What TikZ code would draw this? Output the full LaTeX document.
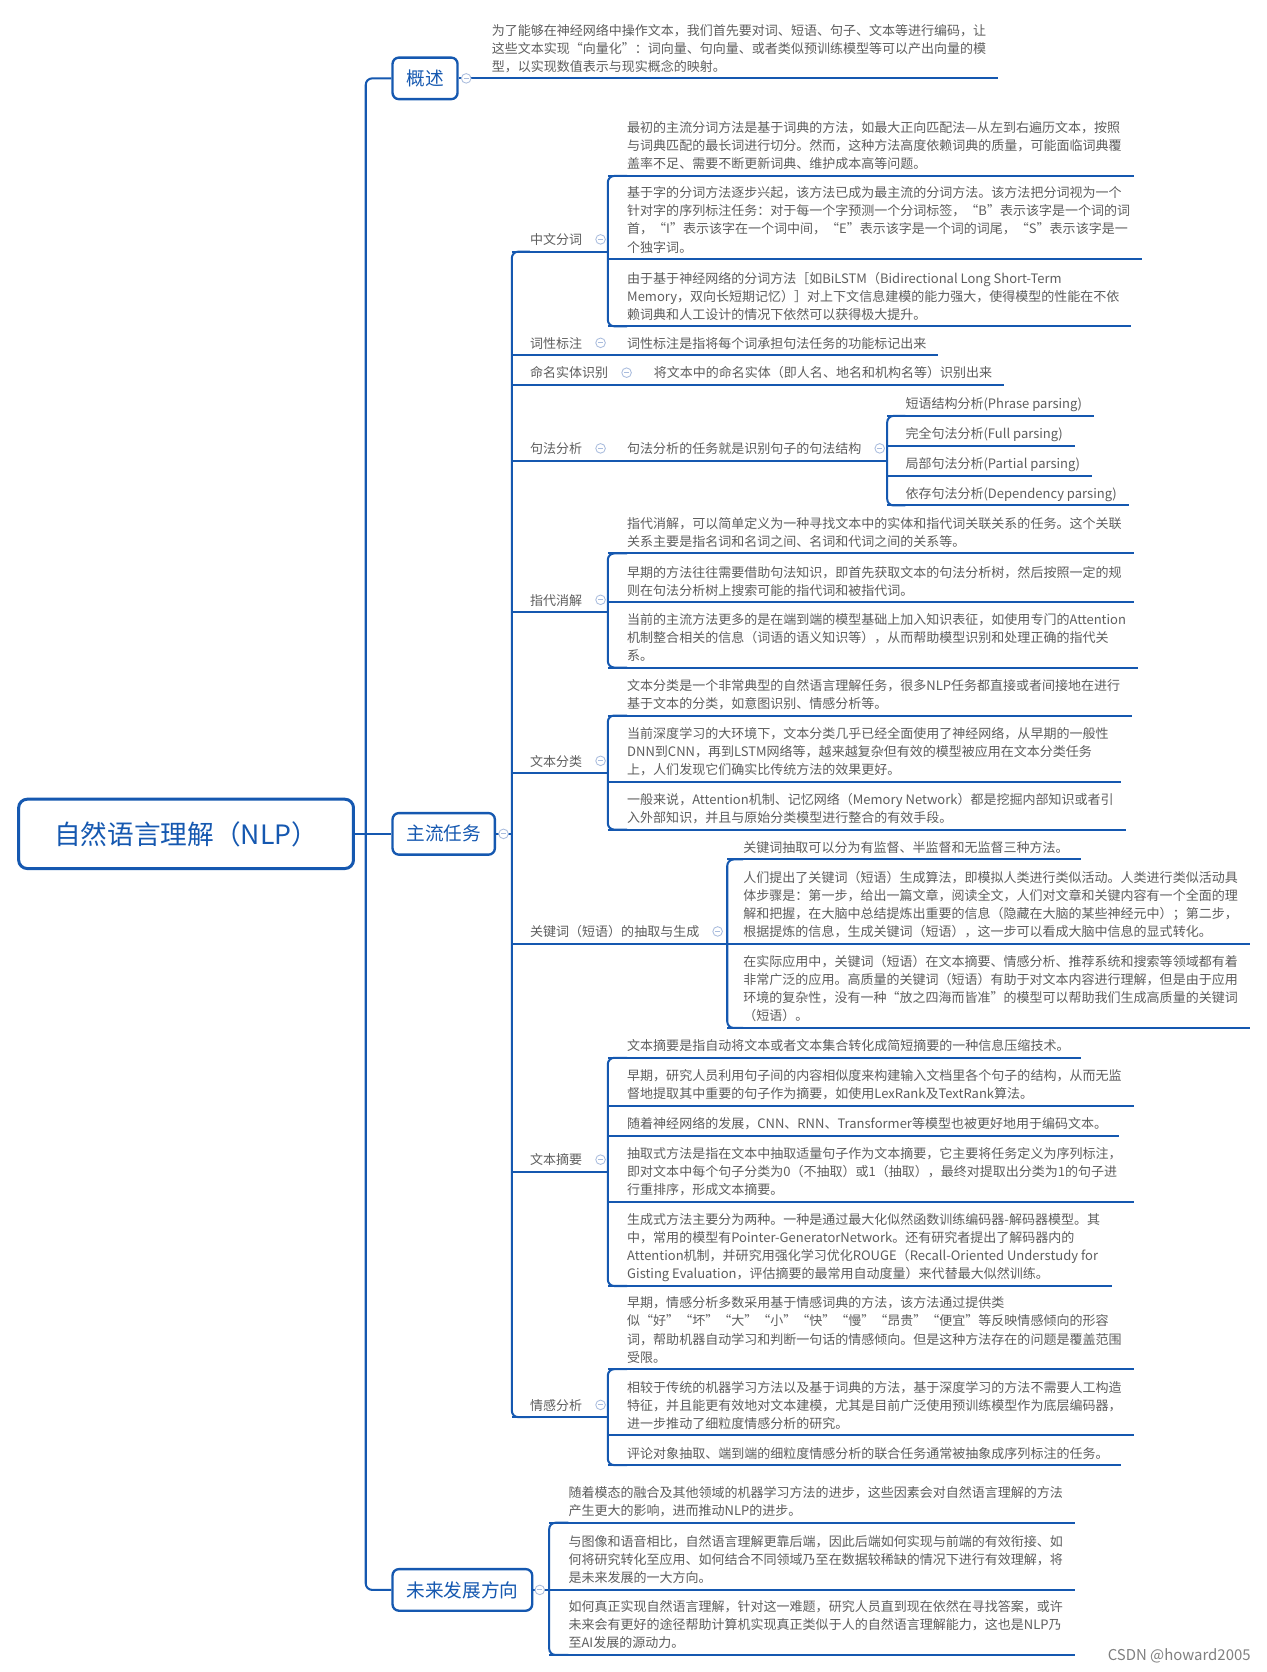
\documentclass[tikz,border=0pt]{standalone}
\usepackage{fontspec}
\newfontfamily\cjk{Noto Sans CJK SC}
\usepackage{xcolor}
\usetikzlibrary{positioning,calc}
\definecolor{nlpblue}{HTML}{1558B0}
\definecolor{txtgray}{HTML}{5E5E5E}
\definecolor{foldc}{HTML}{A9BCDD}

\begin{document}
\begin{tikzpicture}[
    x=1pt, y=-1pt,
    rootbox/.style={draw=nlpblue, fill=white, line width=2.8pt, rounded corners=8pt, minimum width=314pt, minimum height=65pt, text=nlpblue, font=\cjk\fontsize{25}{29}\selectfont},
    mainbox/.style={draw=nlpblue, fill=white, line width=2.2pt, rounded corners=6pt, minimum height=39pt, inner xsep=13pt, anchor=west, text=nlpblue, font=\cjk\fontsize{17.5}{20}\selectfont},
    leaf/.style={anchor=south west, inner sep=0pt, text depth=6.4pt, align=left, text=txtgray, font=\cjk\fontsize{12.2}{17}\selectfont},
    link/.style={draw=nlpblue, line width=1.9pt},
    spine/.style={link, rounded corners=6pt},
    fold/.style={circle, draw=foldc, fill=white, line width=0.8pt, minimum size=9pt, inner sep=0pt,
        path picture={\draw[foldc, line width=0.8pt] ([xshift=2.2pt]path picture bounding box.west) -- ([xshift=-2.2pt]path picture bounding box.east);}}
]
    \useasboundingbox[fill=white] (0,0) rectangle (1188,1568);

    % spine columns
    \coordinate (sp1) at (343,0);
    \coordinate (sp2) at (480,0);
    \coordinate (sp3) at (570,0);
    \coordinate (sp4) at (682,0);
    \coordinate (sp5) at (832,0);
    \coordinate (sp6) at (515,0);

    \node[rootbox] (nlp) at (174.5,782) {自然语言理解（NLP）};
    \node[mainbox] (gs) at (367,73.5) {概述};
    \node[mainbox] (zl) at (367,782) {主流任务};
    \node[mainbox] (wl) at (367,1491) {未来发展方向};

    % 概述
    \node[leaf] (gs1) at (461,73.5) {为了能够在神经网络中操作文本，我们首先要对词、短语、句子、文本等进行编码，让\\这些文本实现“向量化”：词向量、句向量、或者类似预训练模型等可以产出向量的模\\型，以实现数值表示与现实概念的映射。};

    % 主流任务
    \node[leaf] (zw) at (497,236) {中文分词};
    \node[leaf] (zw1) at (588,165) {最初的主流分词方法是基于词典的方法，如最大正向匹配法—从左到右遍历文本，按照\\与词典匹配的最长词进行切分。然而，这种方法高度依赖词典的质量，可能面临词典覆\\盖率不足、需要不断更新词典、维护成本高等问题。};
    \node[leaf] (zw2) at (588,243) {基于字的分词方法逐步兴起，该方法已成为最主流的分词方法。该方法把分词视为一个\\针对字的序列标注任务：对于每一个字预测一个分词标签，“B”表示该字是一个词的词\\首，“I”表示该字在一个词中间，“E”表示该字是一个词的词尾，“S”表示该字是一\\个独字词。};
    \node[leaf] (zw3) at (588,306) {由于基于神经网络的分词方法［如BiLSTM（Bidirectional Long Short-Term\\Memory，双向长短期记忆）］对上下文信息建模的能力强大，使得模型的性能在不依\\赖词典和人工设计的情况下依然可以获得极大提升。};

    \node[leaf] (cx) at (497,333) {词性标注};
    \node[leaf] (cx1) at (588,333) {词性标注是指将每个词承担句法任务的功能标记出来};

    \node[leaf] (mm) at (497,361) {命名实体识别};
    \node[leaf] (mm1) at (613,361) {将文本中的命名实体（即人名、地名和机构名等）识别出来};

    \node[leaf] (jf) at (497,432) {句法分析};
    \node[leaf] (jf1) at (588,432) {句法分析的任务就是识别句子的句法结构};
    \node[leaf] (jf1a) at (849,390) {短语结构分析(Phrase parsing)};
    \node[leaf] (jf1b) at (849,418) {完全句法分析(Full parsing)};
    \node[leaf] (jf1c) at (849,446) {局部句法分析(Partial parsing)};
    \node[leaf] (jf1d) at (849,474) {依存句法分析(Dependency parsing)};

    \node[leaf] (zd) at (497,574) {指代消解};
    \node[leaf] (zd1) at (588,519) {指代消解，可以简单定义为一种寻找文本中的实体和指代词关联关系的任务。这个关联\\关系主要是指名词和名词之间、名词和代词之间的关系等。};
    \node[leaf] (zd2) at (588,565) {早期的方法往往需要借助句法知识，即首先获取文本的句法分析树，然后按照一定的规\\则在句法分析树上搜索可能的指代词和被指代词。};
    \node[leaf] (zd3) at (588,626) {当前的主流方法更多的是在端到端的模型基础上加入知识表征，如使用专门的Attention\\机制整合相关的信息（词语的语义知识等），从而帮助模型识别和处理正确的指代关\\系。};

    \node[leaf] (wf) at (497,725) {文本分类};
    \node[leaf] (wf1) at (588,671) {文本分类是一个非常典型的自然语言理解任务，很多NLP任务都直接或者间接地在进行\\基于文本的分类，如意图识别、情感分析等。};
    \node[leaf] (wf2) at (588,733) {当前深度学习的大环境下，文本分类几乎已经全面使用了神经网络，从早期的一般性\\DNN到CNN，再到LSTM网络等，越来越复杂但有效的模型被应用在文本分类任务\\上，人们发现它们确实比传统方法的效果更好。};
    \node[leaf] (wf3) at (588,778) {一般来说，Attention机制、记忆网络（Memory Network）都是挖掘内部知识或者引\\入外部知识，并且与原始分类模型进行整合的有效手段。};

    \node[leaf] (gj) at (497,885) {关键词（短语）的抽取与生成};
    \node[leaf] (gj1) at (697,806) {关键词抽取可以分为有监督、半监督和无监督三种方法。};
    \node[leaf] (gj2) at (697,885) {人们提出了关键词（短语）生成算法，即模拟人类进行类似活动。人类进行类似活动具\\体步骤是：第一步，给出一篇文章，阅读全文，人们对文章和关键内容有一个全面的理\\解和把握，在大脑中总结提炼出重要的信息（隐藏在大脑的某些神经元中）；第二步，\\根据提炼的信息，生成关键词（短语），这一步可以看成大脑中信息的显式转化。};
    \node[leaf] (gj3) at (697,964) {在实际应用中，关键词（短语）在文本摘要、情感分析、推荐系统和搜索等领域都有着\\非常广泛的应用。高质量的关键词（短语）有助于对文本内容进行理解，但是由于应用\\环境的复杂性，没有一种“放之四海而皆准”的模型可以帮助我们生成高质量的关键词\\（短语）。};

    \node[leaf] (wz) at (497,1099) {文本摘要};
    \node[leaf] (wz1) at (588,992) {文本摘要是指自动将文本或者文本集合转化成简短摘要的一种信息压缩技术。};
    \node[leaf] (wz2) at (588,1037) {早期，研究人员利用句子间的内容相似度来构建输入文档里各个句子的结构，从而无监\\督地提取其中重要的句子作为摘要，如使用LexRank及TextRank算法。};
    \node[leaf] (wz3) at (588,1065) {随着神经网络的发展，CNN、RNN、Transformer等模型也被更好地用于编码文本。};
    \node[leaf] (wz4) at (588,1127) {抽取式方法是指在文本中抽取适量句子作为文本摘要，它主要将任务定义为序列标注，\\即对文本中每个句子分类为0（不抽取）或1（抽取），最终对提取出分类为1的句子进\\行重排序，形成文本摘要。};
    \node[leaf] (wz5) at (588,1206) {生成式方法主要分为两种。一种是通过最大化似然函数训练编码器-解码器模型。其\\中，常用的模型有Pointer-GeneratorNetwork。还有研究者提出了解码器内的\\Attention机制，并研究用强化学习优化ROUGE（Recall-Oriented Understudy for\\Gisting Evaluation，评估摘要的最常用自动度量）来代替最大似然训练。};

    \node[leaf] (qg) at (497,1329) {情感分析};
    \node[leaf] (qg1) at (588,1284) {早期，情感分析多数采用基于情感词典的方法，该方法通过提供类\\似“好”“坏”“大”“小”“快”“慢”“昂贵”“便宜”等反映情感倾向的形容\\词，帮助机器自动学习和判断一句话的情感倾向。但是这种方法存在的问题是覆盖范围\\受限。};
    \node[leaf] (qg2) at (588,1346) {相较于传统的机器学习方法以及基于词典的方法，基于深度学习的方法不需要人工构造\\特征，并且能更有效地对文本建模，尤其是目前广泛使用预训练模型作为底层编码器，\\进一步推动了细粒度情感分析的研究。};
    \node[leaf] (qg3) at (588,1374) {评论对象抽取、端到端的细粒度情感分析的联合任务通常被抽象成序列标注的任务。};

    % 未来发展方向
    \node[leaf] (wl1) at (533,1428) {随着模态的融合及其他领域的机器学习方法的进步，这些因素会对自然语言理解的方法\\产生更大的影响，进而推动NLP的进步。};
    \node[leaf] (wl2) at (533,1491) {与图像和语音相比，自然语言理解更靠后端，因此后端如何实现与前端的有效衔接、如\\何将研究转化至应用、如何结合不同领域乃至在数据较稀缺的情况下进行有效理解，将\\是未来发展的一大方向。};
    \node[leaf] (wl3) at (533,1552) {如何真正实现自然语言理解，针对这一难题，研究人员直到现在依然在寻找答案，或许\\未来会有更好的途径帮助计算机实现真正类似于人的自然语言理解能力，这也是NLP乃\\至AI发展的源动力。};

    \node[anchor=east, inner sep=0pt, text=gray, font=\cjk\fontsize{14}{16}\selectfont] (csdn) at (1173,1553) {CSDN @howard2005};

    % connectors
    \draw[spine] (gs.west) -- (sp1 |- gs.west) -- (sp1 |- wl.west) -- (wl.west);
    \draw[link] (nlp.east) -- (zl.west);
    \draw[link] (gs.east) -- ([xshift=11pt]gs1.south east);
    \draw[link] (zl.east) -- (sp2 |- zl.east);
    \draw[link] (wl.east) -- (sp6 |- wl.east);
    \draw[spine] (zw.south west) -- (sp2 |- zw.south) -- (sp2 |- qg.south) -- (qg.south west);

    \foreach \n in {zw,zd,wf,wz,qg}
        \draw[link] (sp2 |- \n.south) -- (sp3 |- \n.south);
    \draw[link] (sp2 |- gj.south) -- (sp4 |- gj.south);
    \draw[link] (sp2 |- jf.south) -- (sp5 |- jf.south);
    \draw[link] (sp2 |- cx.south) -- ([xshift=11pt]cx1.south east);
    \draw[link] (sp2 |- mm.south) -- ([xshift=11pt]mm1.south east);

    \foreach \a/\b/\s in {zw1/zw3/sp3, zd1/zd3/sp3, wf1/wf3/sp3, gj1/gj3/sp4, wz1/wz5/sp3, qg1/qg3/sp3, jf1a/jf1d/sp5, wl1/wl3/sp6}
        \draw[spine] (\a.south west) -- (\s |- \a.south) -- (\s |- \b.south) -- (\b.south west);

    \foreach \n in {zw1,zw2,zw3,zd1,zd2,zd3,wf1,wf2,wf3,wz1,wz2,wz3,wz4,wz5,qg1,qg2,qg3}
        \draw[link] (sp3 |- \n.south) -- ([xshift=11pt]\n.south east);
    \foreach \n in {gj1,gj2,gj3}
        \draw[link] (sp4 |- \n.south) -- ([xshift=11pt]\n.south east);
    \foreach \n in {jf1a,jf1b,jf1c,jf1d}
        \draw[link] (sp5 |- \n.south) -- ([xshift=11pt]\n.south east);
    \foreach \n in {wl1,wl2,wl3}
        \draw[link] (sp6 |- \n.south) -- ([xshift=11pt]\n.south east);

    % collapse markers
    \node[fold] (gs-m) at ([xshift=7pt]gs.east) {};
    \node[fold] (zl-m) at ([xshift=7pt]zl.east) {};
    \node[fold] (wl-m) at ([xshift=6pt]wl.east) {};
    \foreach \n in {zw,cx,mm,jf,jf1,zd,wf,gj,wz,qg}
        \node[fold] (\n-m) at ($(\n.south east)+(17,-11.5)$) {};
\end{tikzpicture}
\end{document}
